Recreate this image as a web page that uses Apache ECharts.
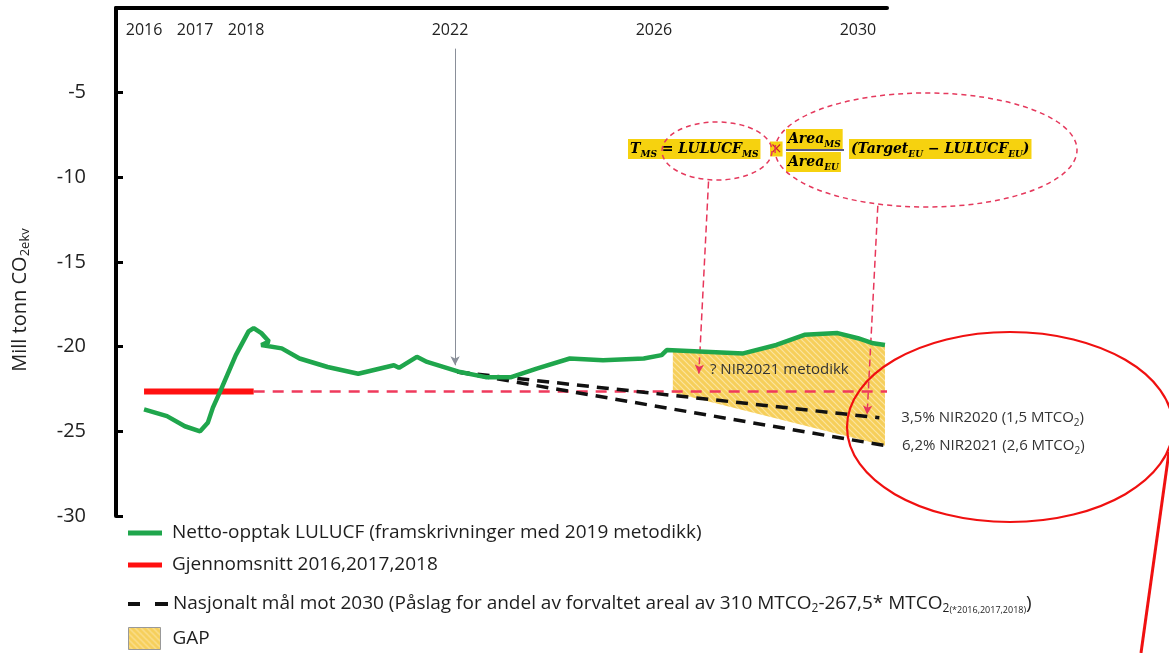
<!DOCTYPE html>
<html>
<head>
<meta charset="utf-8">
<title>LULUCF gap</title>
<script src="https://cdn.jsdelivr.net/npm/echarts@6/dist/echarts.min.js"></script>
<style>
html, body { margin: 0; padding: 0; background: #fff; }
#chart { width: 1169px; height: 653px; }
</style>
</head>
<body>
<div id="chart"></div>
<script>
const FONT = '"Open Sans", "Noto Sans", sans-serif'
const MATH = '"DejaVu Serif", serif'

// årstall som vises paa toppaksen
const yearLabels = [2016, 2017, 2018, 2022, 2026, 2030]

// Netto-opptak LULUCF (mill tonn CO2-ekv)
const nettoYears = [2016.0, 2016.45, 2016.8, 2017.1, 2017.25, 2017.35, 2017.5, 2017.8, 2018.05, 2018.15,
  2018.3, 2018.45, 2018.3, 2018.7, 2019.05, 2019.6, 2020.2, 2020.9, 2021.0, 2021.35, 2021.55, 2022.2,
  2022.7, 2023.2, 2023.7, 2024.35, 2025.0, 2025.8, 2026.15, 2026.25, 2027.0, 2027.75, 2028.4, 2028.95,
  2029.6, 2030.0, 2030.3, 2030.53]
const nettoValues = [-23.7, -24.1, -24.7, -25.0, -24.5, -23.6, -22.6, -20.5, -19.1, -18.9,
  -19.2, -19.7, -19.9, -20.1, -20.7, -21.2, -21.6, -21.1, -21.25, -20.6, -20.9, -21.5,
  -21.8, -21.8, -21.3, -20.7, -20.8, -20.7, -20.5, -20.2, -20.3, -20.4, -19.9, -19.3,
  -19.2, -19.5, -19.8, -19.9]

// Gjennomsnitt 2016, 2017, 2018
const snittYears = [2016.0, 2018.15]
const snittValues = [-22.65, -22.65]
const snittExtYears = [2018.15, 2030.57]
const snittExtValues = [-22.65, -22.65]

// Nasjonalt maal mot 2030
const mal35Years = [2022.15, 2030.42]
const mal35Values = [-21.5, -24.2]
const mal62Years = [2022.15, 2030.55]
const mal62Values = [-21.5, -25.85]

// GAP: oevre kant foelger netto-linja, nedre kant skraatt
const gapTopYears = [2026.37, 2027.0, 2027.75, 2028.4, 2028.95, 2029.6, 2030.0, 2030.3, 2030.53]
const gapTopValues = [-20.25, -20.3, -20.4, -19.9, -19.3, -19.2, -19.5, -19.8, -19.9]
const gapBottomYears = [2030.53, 2026.37]
const gapBottomValues = [-25.85, -22.7]

const zip = (xs, ys) => xs.map((x, i) => [x, ys[i]])
const gapPoly = zip(gapTopYears, gapTopValues).concat(zip(gapBottomYears, gapBottomValues))

// skravert gult moenster
function hatch() {
  const c = document.createElement('canvas')
  c.width = 6
  c.height = 6
  const g = c.getContext('2d')
  g.fillStyle = '#f6cf5a'
  g.fillRect(0, 0, 6, 6)
  g.strokeStyle = '#fbe4a0'
  g.lineWidth = 1.2
  g.beginPath()
  g.moveTo(0, 0); g.lineTo(6, 6)
  g.moveTo(-3, 3); g.lineTo(3, 9)
  g.moveTo(3, -3); g.lineTo(9, 3)
  g.stroke()
  return c
}
const hatchFill = { image: hatch(), repeat: 'repeat' }

const legendText = {
  netto: 'Netto-opptak LULUCF (framskrivninger med 2019 metodikk)',
  snitt: 'Gjennomsnitt 2016,2017,2018',
  mal: 'Nasjonalt mål mot 2030 (Påslag for andel av forvaltet areal av 310 MTCO{s|2}-267,5* MTCO{s|2}{ss|(*2016,2017,2018)})',
  gap: 'GAP',
}
const subRich = {
  s: { fontSize: 12, verticalAlign: 'bottom', lineHeight: 22, fontFamily: FONT, color: '#1e1e1e' },
  ss: { fontSize: 9, verticalAlign: 'bottom', lineHeight: 22, fontFamily: FONT, color: '#1e1e1e' },
}
const legendBase = {
  orient: 'vertical',
  left: 123,
  selectedMode: false,
  formatter: (name) => legendText[name],
  textStyle: { fontSize: 19, color: '#1e1e1e', fontFamily: FONT, lineHeight: 20, padding: [0, 0, 0, 5], rich: subRich },
}

// formelteksten
const mathRich = {
  i: { fontFamily: MATH, fontStyle: 'italic', fontWeight: 'bold', fontSize: 14, color: '#2a2100', lineHeight: 20 },
  s: { fontFamily: MATH, fontStyle: 'italic', fontWeight: 'bold', fontSize: 9, color: '#2a2100', lineHeight: 20, verticalAlign: 'bottom' },
}
const hl = '#f6d20f'
function mathText(x, y, text) {
  return {
    type: 'text', x: x, y: y, z: 10,
    style: { text: text, rich: mathRich, backgroundColor: hl, padding: [0, 2], verticalAlign: 'middle' },
  }
}

const chart = echarts.init(document.getElementById('chart'))
chart.setOption({
  animation: false,
  grid: { left: 113, right: 282, top: 8, bottom: 137 },
  legend: [
    Object.assign({}, legendBase, {
      top: 518, itemWidth: 34, itemHeight: 5, itemGap: 12,
      data: [
        { name: 'netto', icon: 'rect' },
        { name: 'snitt', icon: 'rect' },
      ],
    }),
    Object.assign({}, legendBase, {
      top: 588, itemWidth: 40, itemHeight: 4,
      textStyle: Object.assign({}, legendBase.textStyle, { padding: [0, 0, 0, 0] }),
      data: [{ name: 'mal', icon: 'path://M0,0H12V4H0Z M27,0H40V4H27Z' }],
    }),
    Object.assign({}, legendBase, {
      top: 622, itemWidth: 32, itemHeight: 22,
      textStyle: Object.assign({}, legendBase.textStyle, { padding: [0, 0, 0, 7] }),
      data: [{ name: 'gap', icon: 'rect', itemStyle: { borderColor: '#999', borderWidth: 1 } }],
    }),
  ],
  xAxis: {
    type: 'value',
    position: 'top',
    min: 2015.45,
    max: 2030.57,
    interval: 0.05,
    axisLine: { lineStyle: { color: '#000', width: 4 } },
    axisTick: { show: false },
    splitLine: { show: false },
    axisLabel: {
      inside: true,
      margin: 14,
      fontSize: 16,
      color: '#222',
      fontFamily: FONT,
      showMinLabel: false,
      showMaxLabel: false,
      formatter: (v) => {
        const y = Math.round(v)
        return Math.abs(v - y) < 1e-6 && yearLabels.includes(y) ? String(y) : ''
      },
    },
  },
  yAxis: {
    type: 'value',
    min: -30,
    max: 0,
    interval: 5,
    name: 'Mill tonn CO{s|2ekv}',
    nameLocation: 'middle',
    nameRotate: 90,
    nameGap: 84,
    nameTextStyle: {
      fontSize: 20, color: '#222', fontFamily: FONT, lineHeight: 24,
      padding: [0, 76, 0, 0],
      rich: { s: { fontSize: 13, verticalAlign: 'bottom', lineHeight: 24, color: '#222', fontFamily: FONT } },
    },
    axisLine: { show: true, lineStyle: { color: '#000', width: 4 } },
    axisTick: { show: true, inside: true, length: 7, lineStyle: { color: '#000', width: 3 } },
    splitLine: { show: false },
    axisLabel: { fontSize: 20, color: '#222', fontFamily: FONT, margin: 30, showMaxLabel: false },
  },
  series: [
    {
      name: 'gap',
      type: 'custom',
      z: 1,
      itemStyle: { color: hatchFill },
      data: gapPoly,
      encode: { x: 0, y: 1 },
      renderItem: (params, api) => {
        if (params.dataIndex !== 0) return null
        return {
          type: 'polygon',
          shape: { points: gapPoly.map((p) => api.coord(p)) },
          style: { fill: hatchFill },
        }
      },
    },
    {
      name: 'snitt',
      type: 'line',
      z: 4,
      symbol: 'none',
      data: zip(snittYears, snittValues),
      itemStyle: { color: '#ff1010' },
      lineStyle: { color: '#ff1010', width: 6 },
    },
    {
      name: 'snitt',
      type: 'line',
      z: 3,
      symbol: 'none',
      data: zip(snittExtYears, snittExtValues),
      itemStyle: { color: '#ef3a5c' },
      lineStyle: { color: '#ef3a5c', width: 2.5, type: [11, 8] },
      markLine: {
        silent: true,
        symbol: ['none', 'arrow'],
        symbolSize: [7, 9],
        label: { show: false },
        lineStyle: { color: '#e8365a', width: 1.5, type: [7, 4] },
        data: [
          [{ coord: [2027.07, -10.25] }, { coord: [2026.88, -21.58] }],
          [{ coord: [2030.39, -11.68] }, { coord: [2030.18, -24.0] }],
          [
            { coord: [2022.1, -2.4], lineStyle: { color: '#8a8f99', width: 1, type: 'solid' } },
            { coord: [2022.1, -21.1] },
          ],
        ],
      },
    },
    {
      name: 'mal',
      type: 'line',
      z: 5,
      symbol: 'none',
      data: zip(mal35Years, mal35Values),
      itemStyle: { color: '#111' },
      lineStyle: { color: '#111', width: 3.5, type: [12, 8] },
      endLabel: {
        show: true, distance: 22, fontSize: 15, color: '#333', fontFamily: FONT, lineHeight: 20,
        formatter: '3,5% NIR2020 (1,5 MTCO{s|2})',
        rich: { s: { fontSize: 10, verticalAlign: 'bottom', lineHeight: 20, color: '#333', fontFamily: FONT } },
      },
    },
    {
      name: 'mal',
      type: 'line',
      z: 5,
      symbol: 'none',
      data: zip(mal62Years, mal62Values),
      itemStyle: { color: '#111' },
      lineStyle: { color: '#111', width: 3.5, type: [12, 8] },
      endLabel: {
        show: true, distance: 16, fontSize: 15, color: '#333', fontFamily: FONT, lineHeight: 20,
        formatter: '6,2% NIR2021 (2,6 MTCO{s|2})',
        rich: { s: { fontSize: 10, verticalAlign: 'bottom', lineHeight: 20, color: '#333', fontFamily: FONT } },
      },
    },
    {
      name: 'netto',
      type: 'line',
      z: 6,
      symbol: 'none',
      data: zip(nettoYears, nettoValues),
      itemStyle: { color: '#1fa64c' },
      lineStyle: { color: '#1fa64c', width: 4.5 },
    },
  ],
  graphic: [
    {
      type: 'text', left: 710, top: 362, z: 10,
      style: { text: '? NIR2021 metodikk', fontSize: 15, fill: '#333', fontFamily: FONT },
    },
    mathText(628, 149, '{i|T}{s|MS}{i| = LULUCF}{s|MS}'),
    {
      type: 'text', x: 770, y: 149, z: 10,
      style: { text: '×', fontSize: 15, fill: '#d0202a', fontFamily: MATH, verticalAlign: 'middle', backgroundColor: hl },
    },
    mathText(786, 139, '{i|Area}{s|MS}'),
    { type: 'line', z: 11, shape: { x1: 786, y1: 150, x2: 844, y2: 150 }, style: { stroke: '#20205a', lineWidth: 1.5 } },
    mathText(786, 162, '{i|Area}{s|EU}'),
    mathText(849, 149, '{i|(Target}{s|EU}{i| − LULUCF}{s|EU}{i|)}'),
    {
      type: 'ellipse', z: 12,
      shape: { cx: 717, cy: 151, rx: 55, ry: 29 },
      style: { fill: null, stroke: '#e5395d', lineWidth: 1.5, lineDash: [5, 4] },
    },
    {
      type: 'ellipse', z: 12,
      shape: { cx: 926, cy: 150, rx: 151, ry: 57 },
      style: { fill: null, stroke: '#e5395d', lineWidth: 1.5, lineDash: [5, 4] },
    },
    {
      type: 'ellipse', z: 12,
      shape: { cx: 1010, cy: 427, rx: 163, ry: 95 },
      style: { fill: null, stroke: '#f01010', lineWidth: 2.2 },
    },
    {
      type: 'line', z: 12,
      shape: { x1: 1141, y1: 653, x2: 1169, y2: 452 },
      style: { stroke: '#f01010', lineWidth: 3 },
    },
  ],
})
window.addEventListener('resize', function () {
  chart && chart.resize()
})
</script>
</body>
</html>
